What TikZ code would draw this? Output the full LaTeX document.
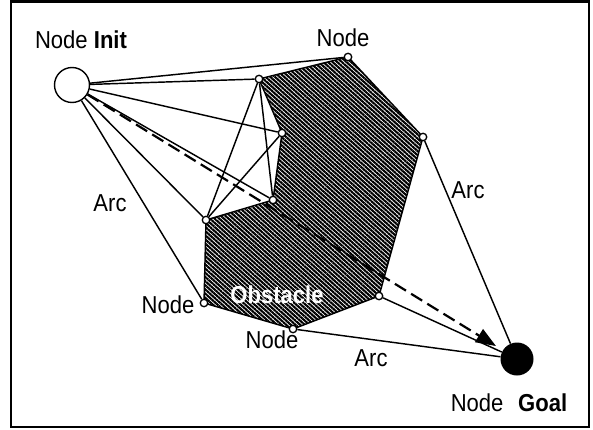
\documentclass[tikz,border=0pt]{standalone}
\usepackage{fontspec}
\setmainfont{Liberation Sans}[FakeStretch=0.9]
\usetikzlibrary{arrows.meta,patterns.meta,backgrounds}
\begin{document}
\begin{tikzpicture}[x=1pt,y=-1pt,
  every node/.style={font=\fontsize{24.5}{28}\selectfont},
  pt/.style={circle,draw,fill=white,inner sep=0pt,minimum size=7.5pt,line width=1.3pt},
  edge/.style={line width=1.45pt},
  lbl/.style={inner sep=0pt},
  hatch/.style={pattern={Lines[angle=-42,distance=3.1pt,line width=2.1pt]},pattern color=black}]
\useasboundingbox (0,0) rectangle (593,430);
\draw[line width=2.4pt] (11,1.5) rectangle (589,427);
% nodes
\node[circle,draw,fill=white,minimum size=35pt,inner sep=0pt,line width=1.4pt] (init) at (72,85) {};
\node[circle,fill=black,minimum size=33pt,inner sep=0pt] (goal) at (517,359) {};
\node[pt] (a) at (348,57) {};
\node[pt] (b) at (259,79) {};
\node[pt] (c) at (282,133) {};
\node[pt] (d) at (423,137) {};
\node[pt] (e) at (273,200) {};
\node[pt] (f) at (206,220) {};
\node[pt] (g) at (204,303) {};
\node[pt] (h) at (293,329) {};
\node[pt] (i) at (379,296) {};
\begin{scope}[on background layer]
\fill[hatch] (b.center) -- (a.center) -- (d.center) -- (i.center) -- (h.center) -- (g.center) -- (f.center) -- (e.center) -- (c.center) -- cycle;
\draw[edge,line join=round] (b.center) -- (a.center) -- (d.center) -- (i.center) -- (h.center) -- (g.center) -- (f.center) -- (e.center) -- (c.center) -- cycle;
\draw[edge] (init) -- (a);
\draw[edge] (init) -- (b);
\draw[edge] (init) -- (c);
\draw[edge] (init) -- (e);
\draw[edge] (init) -- (f);
\draw[edge] (init) -- (g);
\draw[edge] (b) -- (f);
\draw[edge] (b) -- (e);
\draw[edge] (c) -- (f);
\draw[edge] (d) -- (goal);
\draw[edge] (i) -- (goal);
\draw[edge] (h) -- (goal);
\end{scope}
\draw[line width=2.2pt,dash pattern=on 13pt off 6pt,-{Triangle[length=20pt,width=15pt]},shorten >=8pt] (init) -- (goal);
% labels
\node[lbl] (linit) at (81,40) {Node \textbf{Init}};
\node[lbl] (la) at (343,38) {Node};
\node[lbl] (arc1) at (110,203) {Arc};
\node[lbl] (arc2) at (468,190) {Arc};
\node[lbl] (lg) at (168,305) {Node};
\node[lbl,text=white] (obs) at (277,295) {\textbf{Obstacle}};
\node[lbl] (lh) at (272,340) {Node};
\node[lbl] (arc3) at (371,358) {Arc};
\node[lbl] (lgoal) at (509,403) {Node\hspace{0.6em}\textbf{Goal}};
\end{tikzpicture}
\end{document}
